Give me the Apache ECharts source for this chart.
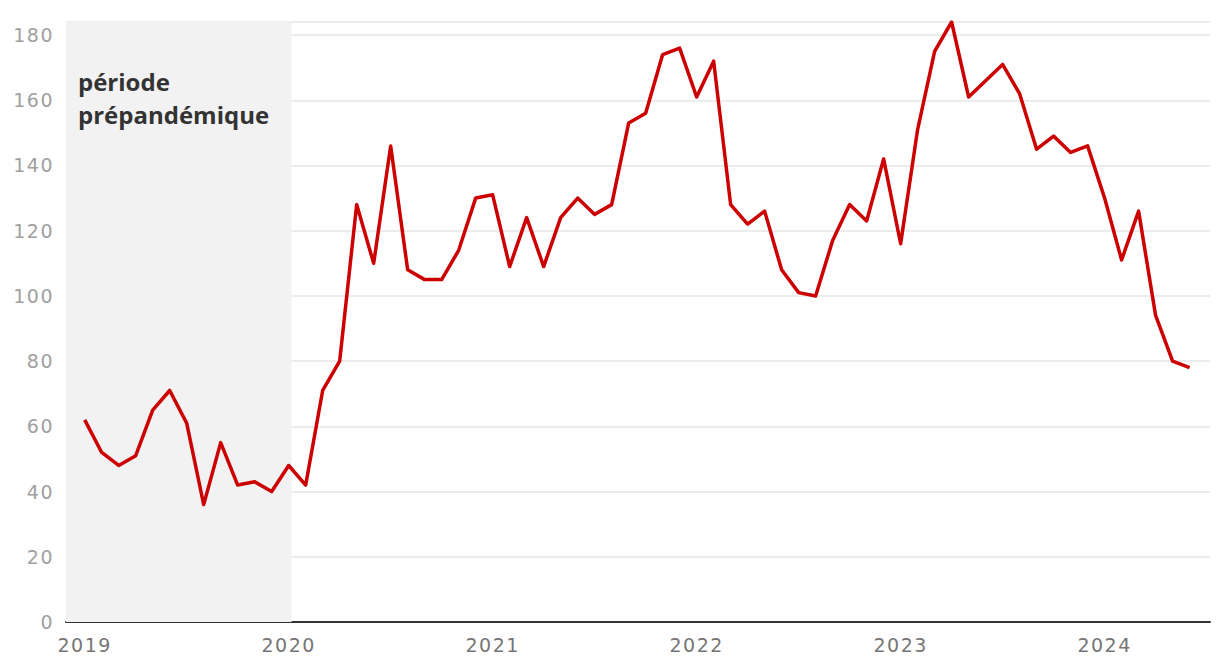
<!DOCTYPE html>
<html>
<head>
<meta charset="utf-8">
<script src="https://cdn.jsdelivr.net/npm/echarts@6/dist/echarts.min.js"></script>
<style>
html,body{margin:0;padding:0;background:#fff;}
#chart{width:1220px;height:672px;}
#chart text[style*="DejaVu"]{letter-spacing:1.5px;}
</style>
</head>
<body>
<div id="chart"></div>
<script>
// Monthly values, Jan 2019 .. Jun 2024 (index 0 = Jan 2019)
const values = [
  62, 52, 48, 51, 65, 71, 61, 36, 55, 42, 43, 40,
  48, 42, 71, 80, 128, 110, 146, 108, 105, 105, 114, 130,
  131, 109, 124, 109, 124, 130, 125, 128, 153, 156, 174, 176,
  161, 172, 128, 122, 126, 108, 101, 100, 117, 128, 123, 142,
  116, 151, 175, 184, 161, 166, 171, 162, 145, 149, 144, 146,
  130, 111, 126, 94, 80, 78
];
const yearTicks = [0, 12, 24, 36, 48, 60];
const yearLabels = ['2019', '2020', '2021', '2022', '2023', '2024'];
const yTicks = [0, 20, 40, 60, 80, 100, 120, 140, 160, 180];
const shadeStart = -1.1;
const shadeEnd = 12.17;
const shadeLabel = 'période\nprépandémique';

const points = values.map((v, i) => [i, v]);

const chart = echarts.init(document.getElementById('chart'), null, {renderer: 'svg'});
chart.setOption({
  animation: false,
  backgroundColor: '#ffffff',
  grid: {left: 66, right: 10, top: 22, bottom: 50},
  xAxis: {
    type: 'value',
    min: -1.1,
    max: 66.2,
    splitLine: {show: false},
    axisTick: {show: false},
    axisLine: {show: true, onZero: false, lineStyle: {color: '#333333', width: 2}},
    axisLabel: {
      customValues: yearTicks,
      formatter: v => yearLabels[yearTicks.indexOf(v)] || '',
      color: '#767676',
      fontSize: 19,
      fontFamily: 'DejaVu Sans',
      margin: 13
    }
  },
  yAxis: {
    type: 'value',
    min: 0,
    max: 184,
    interval: 20,
    axisLine: {show: false},
    axisTick: {show: false},
    splitLine: {lineStyle: {color: '#e6e6e6', width: 1.5}},
    axisLabel: {
      customValues: yTicks,
      color: '#a0a0a0',
      fontSize: 19,
      fontFamily: 'DejaVu Sans',
      margin: 12
    }
  },
  series: [{
    type: 'line',
    data: points,
    showSymbol: false,
    symbol: 'none',
    lineStyle: {color: '#cc0000', width: 3.5, join: 'round'},
    z: 3,
    markArea: {
      silent: true,
      itemStyle: {color: '#f2f2f2'},
      label: {
        show: true,
        position: 'insideTopLeft',
        distance: 12,
        offset: [0, 31],
        formatter: shadeLabel,
        color: '#333333',
        fontWeight: 'bold',
        fontSize: 24,
        lineHeight: 33,
        fontFamily: 'Open Sans'
      },
      data: [[{xAxis: shadeStart}, {xAxis: shadeEnd}]]
    }
  }]
});
</script>
</body>
</html>
